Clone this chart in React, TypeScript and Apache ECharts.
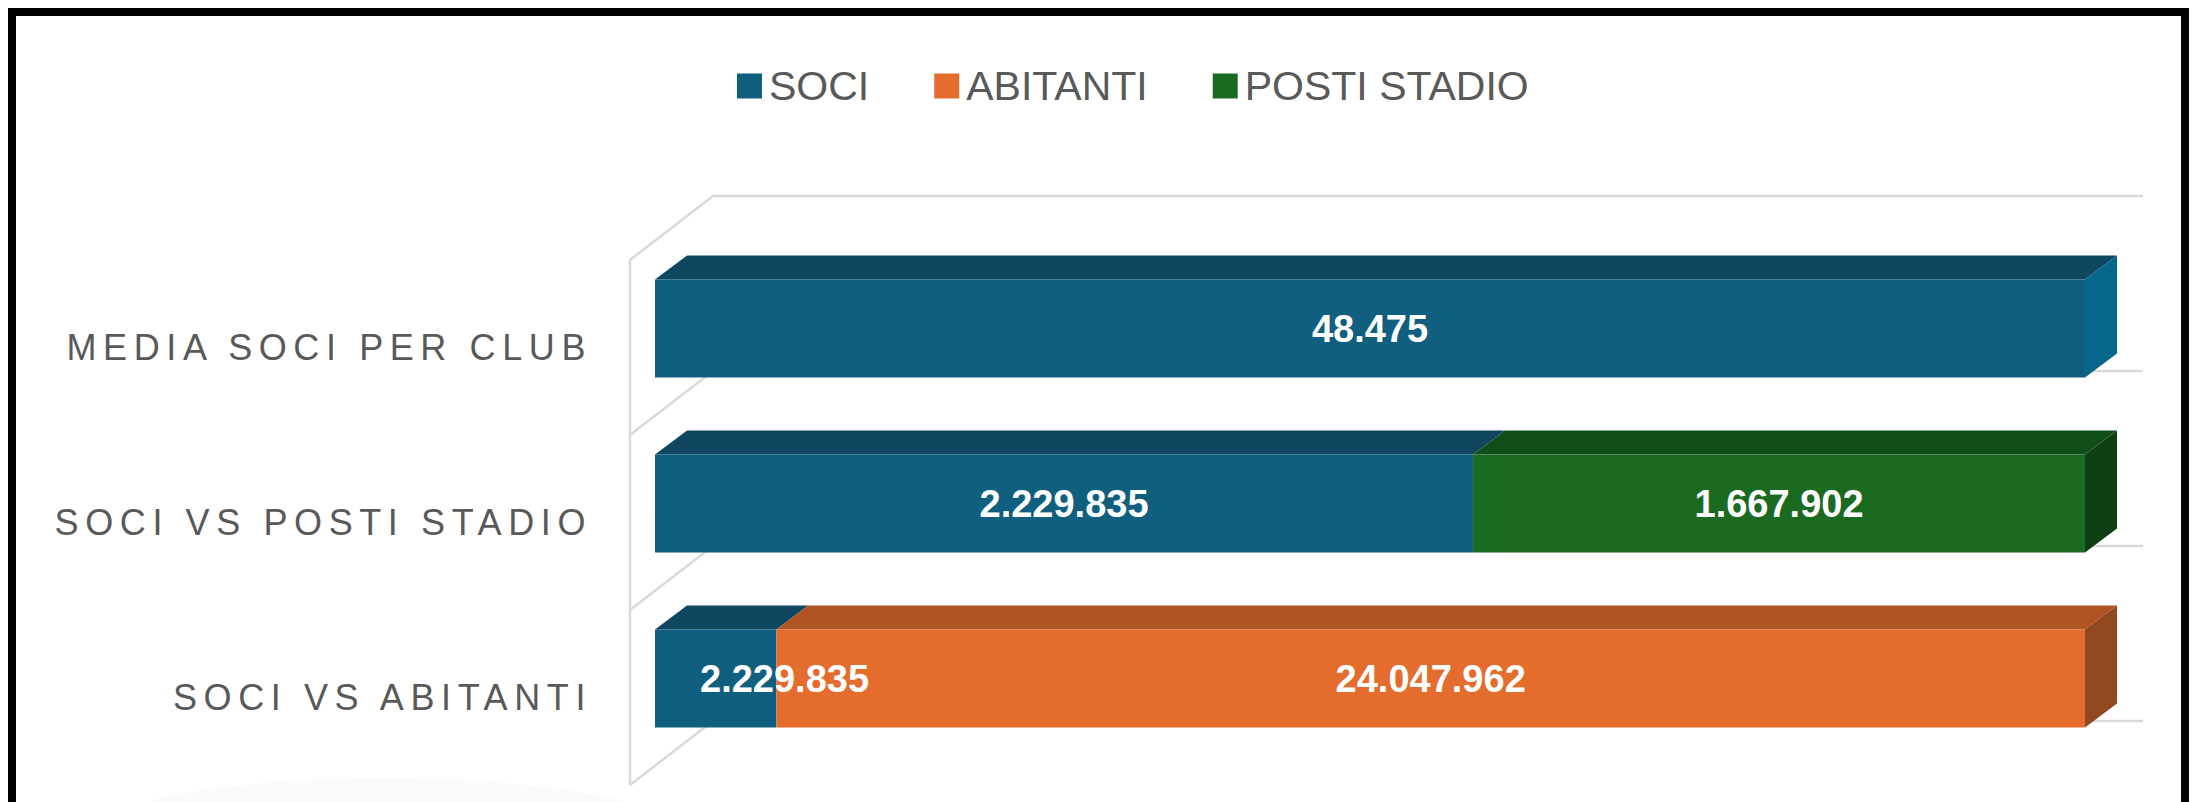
import React, { useEffect, useRef } from 'react';
import * as echarts from 'echarts';

// ---------- data ----------
const categories = ['MEDIA SOCI PER CLUB', 'SOCI VS POSTI STADIO', 'SOCI VS ABITANTI'];
const seriesNames = ['SOCI', 'ABITANTI', 'POSTI STADIO'];
const soci = [48475, 2229835, 2229835];
const abitanti = [0, 0, 24047962];
const postiStadio = [0, 1667902, 0];

// ---------- style ----------
const frontColors = ['#115F7E', '#E46C2D', '#1B6A22'];
const topColors = ['#0F4761', '#B05423', '#114F1A'];
const sideColors = ['#06678A', '#904820', '#0E3F13'];
const FONT = '"Liberation Sans", Arial, Helvetica, sans-serif';
const BAR_H = 98;
const BAR_DX = 32;
const BAR_DY = 24;
const WALL_DX = 83;
const WALL_DY = 64;
const LINE_COLOR = '#d9d9d9';

const fmt = (v: number) => String(v).replace(/\B(?=(\d{3})+(?!\d))/g, '.');

export default function App() {
  const ref = useRef<HTMLDivElement>(null);

  useEffect(() => {
    if (!ref.current) return;
    const chart = echarts.init(ref.current, undefined, { renderer: 'svg' });

    const valueSets = [soci, abitanti, postiStadio];
    const totals = categories.map((_, i) => valueSets.reduce((a, vs) => a + (vs[i] || 0), 0));

    // bar (front faces) series
    const barSeries = seriesNames.map((name, s) => ({
      type: 'bar',
      name,
      stack: 'total',
      xAxisIndex: 0,
      yAxisIndex: 0,
      barWidth: BAR_H,
      z: 3,
      itemStyle: { color: frontColors[s] },
      data: valueSets[s].map((v, i) => {
        if (!v) return '-';
        const pct = (v / totals[i]) * 100;
        const narrow = pct < 15;
        return {
          value: pct,
          raw: v,
          label: narrow
            ? { position: 'insideLeft', distance: 45 }
            : { position: 'inside' },
        };
      }),
      label: {
        show: true,
        color: '#ffffff',
        fontWeight: 'bold',
        fontSize: 38,
        fontFamily: FONT,
        formatter: (p: any) => fmt(p.data.raw),
      },
      emphasis: { disabled: true },
    }));

    // 3D faces data: [start, cat, end, seriesIdx, isLast]
    const faceData: number[][] = [];
    categories.forEach((_, i) => {
      let acc = 0;
      let lastS = -1;
      valueSets.forEach((vs, s) => { if (vs[i]) lastS = s; });
      valueSets.forEach((vs, s) => {
        if (!vs[i]) return;
        const pct = (vs[i] / totals[i]) * 100;
        faceData.push([acc, i, acc + pct, s, s === lastS ? 1 : 0]);
        acc += pct;
      });
    });

    const faceSeries = {
      type: 'custom',
      xAxisIndex: 0,
      yAxisIndex: 0,
      z: 2,
      silent: true,
      encode: { x: [0, 2], y: 1 },
      data: faceData,
      renderItem: (params: any, api: any) => {
        const start = api.value(0);
        const cat = api.value(1);
        const end = api.value(2);
        const s = api.value(3);
        const last = api.value(4);
        const p0 = api.coord([start, cat]);
        const p1 = api.coord([end, cat]);
        const yTop = p0[1] - BAR_H / 2;
        const yBot = p0[1] + BAR_H / 2;
        const children: any[] = [
          {
            type: 'polygon',
            shape: {
              points: [
                [p0[0], yTop],
                [p1[0], yTop],
                [p1[0] + BAR_DX, yTop - BAR_DY],
                [p0[0] + BAR_DX, yTop - BAR_DY],
              ],
            },
            style: { fill: topColors[s] },
          },
        ];
        if (last) {
          children.push({
            type: 'polygon',
            shape: {
              points: [
                [p1[0], yTop],
                [p1[0] + BAR_DX, yTop - BAR_DY],
                [p1[0] + BAR_DX, yBot - BAR_DY],
                [p1[0], yBot],
              ],
            },
            style: { fill: sideColors[s] },
          });
        }
        return { type: 'group', children };
      },
    };

    // wall / gridlines frame on the front plane grid
    const frameSeries = {
      type: 'custom',
      xAxisIndex: 1,
      yAxisIndex: 1,
      z: 1,
      silent: true,
      encode: { x: 0, y: 1 },
      data: categories.map((_, i) => [0, i]),
      renderItem: (params: any, api: any) => {
        const cat = api.value(1);
        const c = api.coord([0, cat]);
        const xR = api.coord([100, cat])[0];
        const band = api.size([0, 1])[1];
        const yT = c[1] - band / 2;
        const yB = c[1] + band / 2;
        const ls = { stroke: LINE_COLOR, lineWidth: 2.5, fill: null };
        const children: any[] = [
          { type: 'line', shape: { x1: c[0], y1: yT, x2: c[0], y2: yB }, style: ls },
          {
            type: 'polyline',
            shape: { points: [[c[0], yT], [c[0] + WALL_DX, yT - WALL_DY], [xR + WALL_DX, yT - WALL_DY]] },
            style: ls,
          },
        ];
        if (cat === categories.length - 1) {
          children.push({
            type: 'polyline',
            shape: { points: [[c[0], yB], [c[0] + WALL_DX, yB - WALL_DY], [xR + WALL_DX, yB - WALL_DY]] },
            style: ls,
          });
        }
        return { type: 'group', children };
      },
    };

    chart.setOption({
      animation: false,
      backgroundColor: '#ffffff',
      legend: {
        data: seriesNames,
        left: 716,
        top: 44,
        itemWidth: 25,
        itemHeight: 25,
        itemGap: 65,
        icon: 'rect',
        selectedMode: false,
        textStyle: { fontSize: 41, color: '#595959', fontFamily: FONT, lineHeight: 42, padding: [0, 0, 0, 2] },
      },
      graphic: [
        {
          type: 'ellipse',
          silent: true,
          z: -10,
          shape: { cx: 370, cy: 822, rx: 300, ry: 60 },
          style: { fill: 'rgba(0,0,0,0.018)', shadowBlur: 40, shadowColor: 'rgba(0,0,0,0.03)' },
        },
      ],
      grid: [
        { left: 639, right: 96, top: 225, bottom: 36 },
        { left: 614, right: 121, top: 244, bottom: 17 },
      ],
      xAxis: [
        { type: 'value', gridIndex: 0, min: 0, max: 100, show: false },
        { type: 'value', gridIndex: 1, min: 0, max: 100, show: false },
      ],
      yAxis: [
        { type: 'category', gridIndex: 0, data: categories, inverse: true, show: false },
        {
          type: 'category',
          gridIndex: 1,
          data: categories,
          inverse: true,
          axisLine: { show: false },
          axisTick: { show: false },
          splitLine: { show: false },
          axisLabel: {
            fontSize: 36,
            color: '#595959',
            fontFamily: FONT,
            margin: 38,
            padding: [0, 0, 14, 0],
          },
        },
      ],
      series: [frameSeries, faceSeries, ...barSeries],
    });

    // wide tracking on the category labels
    const applySpacing = () => {
      if (!ref.current) return;
      ref.current.querySelectorAll('text').forEach((t) => {
        if (categories.includes((t.textContent || '').trim())) {
          t.setAttribute('letter-spacing', '6.6');
        }
      });
    };
    applySpacing();
    chart.on('finished', applySpacing);

    return () => {
      chart.dispose();
    };
  }, []);

  return (
    <div style={{ border: '8px solid #000', height: 786, background: '#fff', overflow: 'hidden' }}>
      <div ref={ref} style={{ width: 2165, height: 786 }} />
    </div>
  );
}
